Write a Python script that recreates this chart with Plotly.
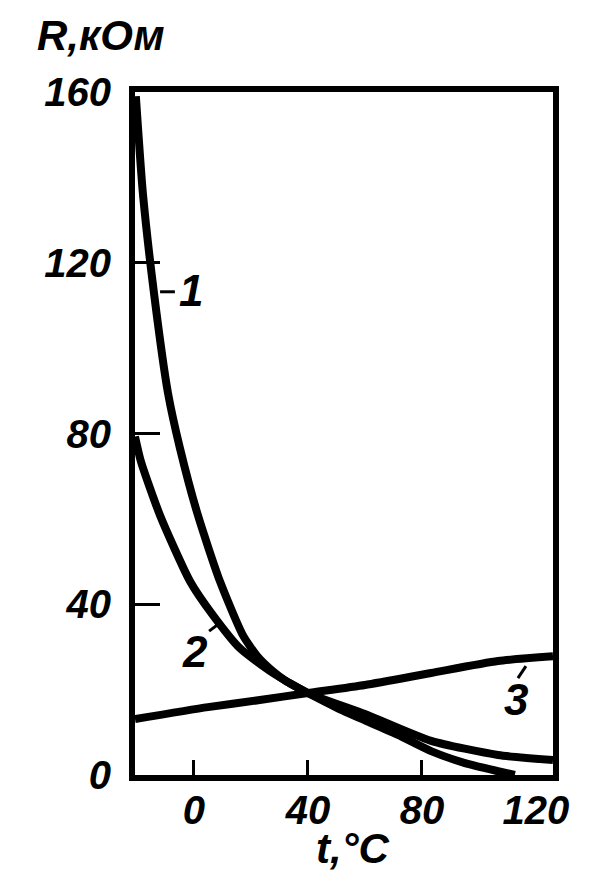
import plotly.graph_objects as go

# Data (t in °C, R in kOhm)
t1 = [-20.4, -17.9, -14.0, -9.1, -4.9, 1.4, 9.1, 17.2, 22.5, 27.5, 32.3, 40.0, 50.0, 60.0, 71.6, 83.2, 95.1, 106.7, 112.6]
r1 = [159.0, 136.0, 112.7, 89.4, 76.5, 60.8, 45.4, 32.7, 27.6, 24.4, 22.0, 19.2, 15.8, 12.8, 9.4, 5.6, 2.8, 0.9, 0.0]

t2 = [-20.7, -18.6, -11.9, -1.4, 6.7, 16.1, 27.7, 40.0, 60.0, 83.2, 106.7, 126.0]
r2 = [79.3, 73.4, 60.8, 45.4, 37.4, 29.7, 23.9, 19.2, 14.3, 8.0, 4.7, 3.5]

t3 = [-20.7, 4.9, 22.5, 40.0, 60.0, 83.2, 106.7, 126.0]
r3 = [13.1, 15.9, 17.5, 19.2, 21.1, 23.9, 26.7, 27.8]

x_ticks = [0, 40, 80, 120]
x_tick_marks = [0, 40, 80]
y_ticks = [0, 40, 80, 120, 160]

curve_labels = ["1", "2", "3"]
label_pos_t = [-1.0, 0.4, 113.0]
label_pos_r = [113.5, 29.0, 17.8]
leader_t = [(-11.9, -6.7), (5.3, 9.1), (113.7, 116.5)]
leader_r = [(113.2, 113.2), (33.7, 35.6), (22.7, 25.5)]

FONT = dict(family="Liberation Sans, Arial, sans-serif", color="black", weight="bold", style="italic")

fig = go.Figure()
for tx, ry in [(t1, r1), (t2, r2), (t3, r3)]:
    fig.add_trace(go.Scatter(x=tx, y=ry, mode="lines",
                             line=dict(color="black", width=8, shape="spline", smoothing=0.6),
                             showlegend=False, hoverinfo="skip", cliponaxis=True))
# dummy trace for tick-mark axis
fig.add_trace(go.Scatter(x=[None], y=[None], xaxis="x2", showlegend=False))

for lab, lx, ly, lt, lr in zip(curve_labels, label_pos_t, label_pos_r, leader_t, leader_r):
    fig.add_annotation(x=lx, y=ly, text=lab, showarrow=False, xref="x", yref="y",
                       font=dict(size=44, **FONT))
    fig.add_shape(type="line", x0=lt[0], x1=lt[1], y0=lr[0], y1=lr[1], xref="x", yref="y",
                  line=dict(color="black", width=3))

fig.add_annotation(x=-0.24, y=1.082, xref="paper", yref="paper", text="R,кОм", showarrow=False,
                   xanchor="left", yanchor="middle", font=dict(size=42, **FONT))
fig.add_annotation(x=0.52, y=-0.107, xref="paper", yref="paper", text="t,°C", showarrow=False,
                   xanchor="center", yanchor="middle", font=dict(size=42, **FONT))

xr = [-20.7, 126]
fig.update_layout(
    width=606, height=878,
    margin=dict(l=127, r=61, t=84, b=111),
    paper_bgcolor="white", plot_bgcolor="white",
    xaxis=dict(range=xr, tickvals=x_ticks, ticks="", showgrid=False, zeroline=False,
               showline=True, linecolor="black", linewidth=6, mirror=True,
               tickfont=dict(size=40, **FONT), ticklabelstandoff=-5),
    xaxis2=dict(range=xr, overlaying="x", side="bottom", tickvals=x_tick_marks, ticks="inside",
                ticklen=15, tickwidth=3, tickcolor="black", showticklabels=False,
                showgrid=False, zeroline=False, showline=False),
    yaxis=dict(range=[0, 160], tickvals=y_ticks, ticks="inside", ticklen=25, tickwidth=3,
               tickcolor="black", showgrid=False, zeroline=False,
               showline=True, linecolor="black", linewidth=6, mirror=True,
               tickfont=dict(size=40, **FONT), ticklabelstandoff=10),
)
fig.write_html("out.html")
